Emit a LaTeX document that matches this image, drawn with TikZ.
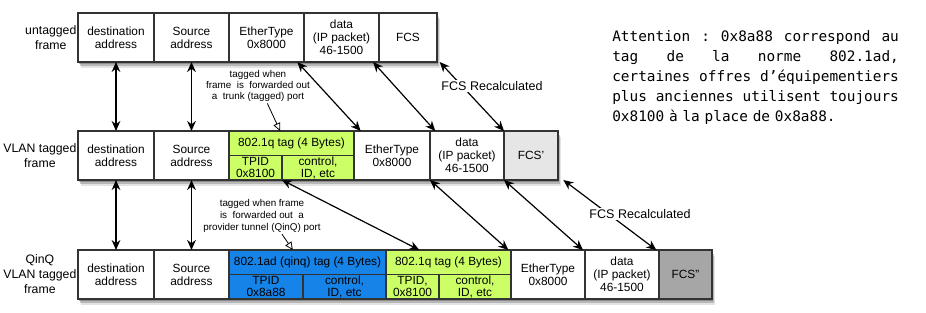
\documentclass[tikz,border=0pt]{standalone}
\usepackage{fontspec}
\setmainfont{Liberation Sans}
\newfontfamily\notefont{DejaVu Sans Mono}
\usepackage{tikz}
\usetikzlibrary{arrows.meta,positioning,fit,backgrounds,shadows}
\usepackage{xcolor}
\definecolor{tagq}{HTML}{CCFF66}
\definecolor{tagad}{HTML}{1683E8}
\definecolor{fcsone}{HTML}{E6E6E6}
\definecolor{fcstwo}{HTML}{A6A6A6}
\tikzset{
  cell/.style={draw=black!80, line width=0.9pt, fill=white, align=center, inner xsep=1pt, inner ysep=0pt,
    outer sep=0pt, minimum height=36.75pt, font=\fontsize{8.9}{9.8}\selectfont},
  wd/.style={minimum width=#1*0.75pt},
  half/.style={cell, minimum height=18.375pt, font=\fontsize{8.9}{8.9}\selectfont},
  rowlabel/.style={align=center, inner sep=1pt, font=\fontsize{9.2}{11.2}\selectfont},
  rowback/.style={fill=white, inner sep=0pt, draw=none,
    drop shadow={shadow xshift=1pt, shadow yshift=-1.5pt, opacity=0.35, fill=black!80},
    drop shadow={shadow xshift=1.5pt, shadow yshift=-3pt, opacity=0.3, fill=black!70},
    drop shadow={shadow xshift=2pt, shadow yshift=-4.5pt, opacity=0.18, fill=black!60}},
  arr/.style={{Stealth[length=7.5pt,width=6.5pt]}-{Stealth[length=7.5pt,width=6.5pt]}, line width=0.9pt},
  openarr/.style={-{Triangle[open,length=6pt,width=5.5pt]}, line width=0.6pt},
  tagnote/.style={align=center, inner sep=1pt, font=\fontsize{7.4}{8.4}\selectfont},
  recalc/.style={fill=white, inner sep=1pt, font=\fontsize{9.4}{11}\selectfont},
  note/.style={inner sep=0pt, text width=215pt, align=left, font=\notefont\fontsize{10.8}{15}\selectfont}
}

\begin{document}
\begin{tikzpicture}[x=0.75pt, y=-0.75pt]
  \useasboundingbox (0,0) rectangle (926,313);

  % untagged frame
  \node[cell, wd=76, anchor=north west] (dest1) at (78,13) {destination\\address};
  \node[cell, wd=75, right=0pt of dest1] (src1) {Source\\address};
  \node[cell, wd=75, right=0pt of src1] (eth1) {EtherType\\0x8000};
  \node[cell, wd=75, right=0pt of eth1] (data1) {data\\(IP packet)\\46-1500};
  \node[cell, wd=58, right=0pt of data1] (fcs1) {FCS};
  \node[rowlabel, anchor=east] (lab1) at (dest1.west) {untagged\\frame};

  % VLAN tagged frame
  \node[cell, wd=76, anchor=north west] (dest2) at (78,131) {destination\\address};
  \node[cell, wd=75, right=0pt of dest2] (src2) {Source\\address};
  \node[half, wd=125, fill=tagq, anchor=north west] (tag2) at (src2.north east) {802.1q tag (4 Bytes)};
  \node[half, wd=53, fill=tagq, anchor=north west] (tpid2) at (tag2.south west) {TPID\\0x8100};
  \node[half, wd=72, fill=tagq, right=0pt of tpid2] (ctl2) {control,\\ID, etc};
  \node[cell, wd=76, anchor=north west] (eth2) at (tag2.north east) {EtherType\\0x8000};
  \node[cell, wd=74, right=0pt of eth2] (data2) {data\\(IP packet)\\46-1500};
  \node[cell, wd=54, fill=fcsone, right=0pt of data2] (fcs2) {FCS'};
  \node[rowlabel, anchor=east] (lab2) at (dest2.west) {VLAN tagged\\frame};

  % QinQ frame
  \node[cell, wd=76, anchor=north west] (dest3) at (78,250) {destination\\address};
  \node[cell, wd=75, right=0pt of dest3] (src3) {Source\\address};
  \node[half, wd=157, fill=tagad, anchor=north west] (tag3a) at (src3.north east) {802.1ad (qinq) tag (4 Bytes)};
  \node[half, wd=74, fill=tagad, anchor=north west] (tpid3a) at (tag3a.south west) {TPID\\0x8a88};
  \node[half, wd=83, fill=tagad, right=0pt of tpid3a] (ctl3a) {control,\\ID, etc};
  \node[half, wd=125, fill=tagq, anchor=north west] (tag3q) at (tag3a.north east) {802.1q tag (4 Bytes)};
  \node[half, wd=53, fill=tagq, anchor=north west] (tpid3q) at (tag3q.south west) {TPID,\\0x8100};
  \node[half, wd=72, fill=tagq, right=0pt of tpid3q] (ctl3q) {control,\\ID, etc};
  \node[cell, wd=74, anchor=north west] (eth3) at (tag3q.north east) {EtherType\\0x8000};
  \node[cell, wd=74, right=0pt of eth3] (data3) {data\\(IP packet)\\46-1500};
  \node[cell, wd=53, fill=fcstwo, right=0pt of data3] (fcs3) {FCS''};
  \node[rowlabel, anchor=east] (lab3) at (dest3.west) {QinQ\\VLAN tagged\\frame};

  \begin{scope}[on background layer]
    \node[rowback, fit=(dest1)(fcs1)] (row1) {};
    \node[rowback, fit=(dest2)(fcs2)] (row2) {};
    \node[rowback, fit=(dest3)(fcs3)] (row3) {};
  \end{scope}

  % links untagged -> VLAN tagged
  \draw[arr] (dest1) -- (dest2);
  \draw[arr] (src1) -- (src2);
  \draw[arr] ([xshift=-5pt]eth1.south east) -- ([xshift=5pt]eth2.north west);
  \draw[arr] ([xshift=-4.5pt]data1.south east) -- ([xshift=4pt]data2.north west);
  \draw[arr] ([xshift=2pt]fcs1.south east) -- (data2.north east);
  \node[recalc] (recalc1) at (492,86) {FCS Recalculated};
  \node[tagnote] (trunknote) at (258,86) {tagged when\\frame\ \ is\ \ forwarded out\\a\ \ trunk (tagged) port};
  \draw[openarr] ([xshift=7pt]trunknote.south) -- ([xshift=-8.5pt]tag2.north);

  % links VLAN tagged -> QinQ
  \draw[arr] (dest2) -- (dest3);
  \draw[arr] (src2) -- (src3);
  \draw[arr] (tpid2.south east) -- ([xshift=25pt]tag3q.north west);
  \draw[arr] (eth2.south east) -- ([xshift=-2pt]eth3.north west);
  \draw[arr] (data2.south east) -- ([xshift=-1.5pt]data3.north west);
  \draw[arr] ([xshift=4pt]fcs2.south east) -- ([xshift=-2pt]data3.north east);
  \node[recalc] (recalc2) at (640,214) {FCS Recalculated};
  \node[tagnote, font=\fontsize{7.4}{9}\selectfont] (qinqnote) at (262,216) {tagged when frame\\is\ \ forwarded out\ \ a\\provider tunnel (QinQ) port};
  \draw[openarr] ([xshift=15pt]qinqnote.south) -- ([xshift=-11pt]tag3a.north);

  \node[note, anchor=north west] (remark) at (612,30) {%
    \makebox[\linewidth][l]{Attention\hfill :\hfill 0x8a88\hfill correspond\hfill au}\\
    \makebox[\linewidth][l]{tag\hfill de\hfill la\hfill norme\hfill 802.1ad,}\\
    \makebox[\linewidth][l]{certaines\hfill offres\hfill d’équipementiers}\\
    \makebox[\linewidth][l]{plus\hfill anciennes\hfill utilisent\hfill toujours}\\
    0x8100 à la place de 0x8a88.};
\end{tikzpicture}
\end{document}
